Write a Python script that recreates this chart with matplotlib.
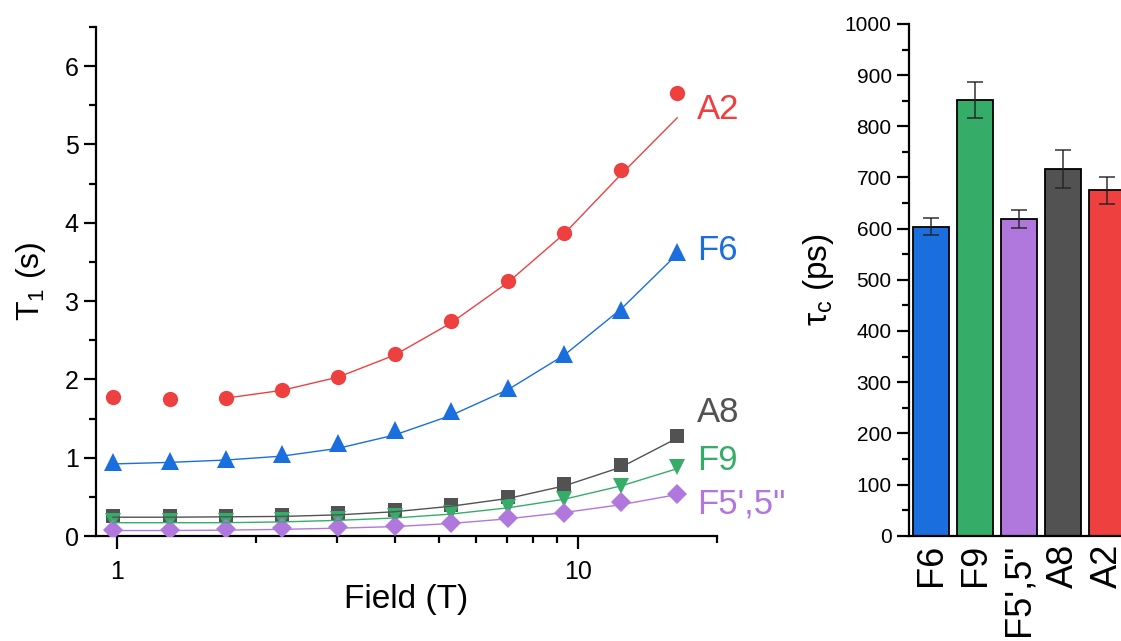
import matplotlib

matplotlib.use("Agg")
import matplotlib.pyplot as plt
import matplotlib.ticker as mticker
import numpy as np

plt.rcParams["font.family"] = ["Liberation Sans", "DejaVu Sans"]
plt.rcParams["mathtext.fontset"] = "custom"
plt.rcParams["mathtext.rm"] = "Liberation Sans"
plt.rcParams["mathtext.it"] = "Liberation Sans"

# ============================================================
# T1 vs field data
# ============================================================
field = [0.98, 1.30, 1.72, 2.28, 3.02, 4.00, 5.30, 7.05, 9.33, 12.4, 16.4]

t1_a2 = [1.77, 1.75, 1.76, 1.86, 2.03, 2.33, 2.75, 3.25, 3.87, 4.67, 5.66]
t1_f6 = [0.94, 0.96, 0.98, 1.05, 1.19, 1.35, 1.59, 1.89, 2.33, 2.89, 3.63]
t1_a8 = [0.26, 0.26, 0.26, 0.27, 0.29, 0.33, 0.40, 0.50, 0.66, 0.91, 1.28]
t1_f9 = [0.19, 0.19, 0.19, 0.20, 0.22, 0.25, 0.29, 0.37, 0.47, 0.64, 0.88]
t1_f5 = [0.077, 0.077, 0.085, 0.10, 0.12, 0.13, 0.17, 0.23, 0.30, 0.43, 0.54]

# fitted curves (sampled off the figure at the same fields)
fit_a2_field = field[2:]
fit_a2 = [1.76, 1.86, 2.03, 2.31, 2.72, 3.24, 3.86, 4.62, 5.34]
fit_f6 = [0.92, 0.94, 0.97, 1.02, 1.12, 1.29, 1.54, 1.87, 2.31, 2.90, 3.60]
fit_a8 = [0.24, 0.24, 0.245, 0.25, 0.27, 0.31, 0.38, 0.48, 0.64, 0.88, 1.25]
fit_f9 = [0.17, 0.17, 0.17, 0.18, 0.20, 0.23, 0.28, 0.36, 0.47, 0.64, 0.86]
fit_f5 = [0.07, 0.07, 0.075, 0.085, 0.10, 0.12, 0.16, 0.22, 0.30, 0.40, 0.53]

# ============================================================
# tau_c bars
# ============================================================
sites = ["F6", "F9", "F5',5''", "A8", "A2"]
tau_c = [604, 852, 619, 716, 675]
tau_err = [17, 35, 18, 37, 26]

c_red = "#ef4040"
c_blue = "#1b6ede"
c_grey = "#525252"
c_green = "#36ac69"
c_purple = "#b077dc"
bar_colors = [c_blue, c_green, c_purple, c_grey, c_red]

fig = plt.figure(figsize=(11.21, 6.41), dpi=100)
ax1 = fig.add_axes([0.0856, 0.1638, 0.554, 0.7942])
ax2 = fig.add_axes([0.8109, 0.1643, 0.1963, 0.7983])

# ---- left panel ----
series = [
    (t1_a2, fit_a2_field, fit_a2, c_red, "o", 11, "A2"),
    (t1_f6, field, fit_f6, c_blue, "^", 13, "F6"),
    (t1_a8, field, fit_a8, c_grey, "s", 10, "A8"),
    (t1_f9, field, fit_f9, c_green, "v", 12, "F9"),
    (t1_f5, field, fit_f5, c_purple, "D", 10, "F5',5''"),
]
label_y = {"A2": 5.45, "F6": 3.65, "A8": 1.58, "F9": 0.96, "F5',5''": 0.41}
for ydata, fx, fy, col, mk, ms, name in series:
    ax1.plot(field, ydata, linestyle="none", marker=mk, ms=ms, color=col,
             markeredgewidth=0, zorder=3)
    ax1.plot(fx, fy, color=col, linewidth=1.0, zorder=4)
    lab = name.replace("''", '"')
    ax1.text(18.1, label_y[name], lab, color=col, fontsize=25,
             ha="left", va="center")

ax1.set_xscale("log")
ax1.set_xlim(0.9, 20)
ax1.set_ylim(0, 6.5)
ax1.xaxis.set_major_locator(mticker.FixedLocator([1, 10]))
ax1.xaxis.set_major_formatter(mticker.FixedFormatter(["1", "10"]))
ax1.xaxis.set_minor_locator(mticker.FixedLocator([2, 3, 4, 5, 6, 7, 8, 9, 20]))
ax1.xaxis.set_minor_formatter(mticker.NullFormatter())
ax1.yaxis.set_major_locator(mticker.MultipleLocator(1))
ax1.yaxis.set_minor_locator(mticker.MultipleLocator(0.5))
ax1.set_xlabel("Field (T)", fontsize=24, labelpad=0)
ax1.set_ylabel("T$_1$ (s)", fontsize=23, labelpad=12)

# ---- right panel ----
pos = np.arange(len(sites))
ax2.bar(pos, tau_c, width=0.8, color=bar_colors, edgecolor="black",
        linewidth=1.3, zorder=2)
ax2.errorbar(pos, tau_c, yerr=tau_err, fmt="none", ecolor="#222222",
             elinewidth=1.2, capsize=6, capthick=1.2, alpha=0.85, zorder=3)
ax2.set_xlim(-0.5, 4.5)
ax2.set_ylim(0, 1000)
ax2.set_xticks(pos)
ax2.set_xticklabels([s.replace("''", '"') for s in sites], rotation=90,
                    fontsize=26)
ax2.yaxis.set_major_locator(mticker.MultipleLocator(100))
ax2.yaxis.set_minor_locator(mticker.MultipleLocator(50))
ax2.set_ylabel(r"$\tau_{\rm c}$ (ps)", fontsize=24, labelpad=6)

for ax in (ax1, ax2):
    ax.spines["top"].set_visible(False)
    ax.spines["right"].set_visible(False)
    ax.spines["left"].set_linewidth(1.6)
    ax.spines["bottom"].set_linewidth(1.6)
    ax.tick_params(which="major", direction="out", length=9, width=1.6)
    ax.tick_params(which="minor", direction="out", length=5, width=1.6)

ax1.tick_params(axis="both", which="major", labelsize=18)
ax1.tick_params(axis="x", which="major", pad=8)
ax2.tick_params(axis="y", which="major", labelsize=15)
ax2.tick_params(axis="x", which="major", length=0, pad=6)

fig.savefig("out.png", dpi=100)
plt.close(fig)
